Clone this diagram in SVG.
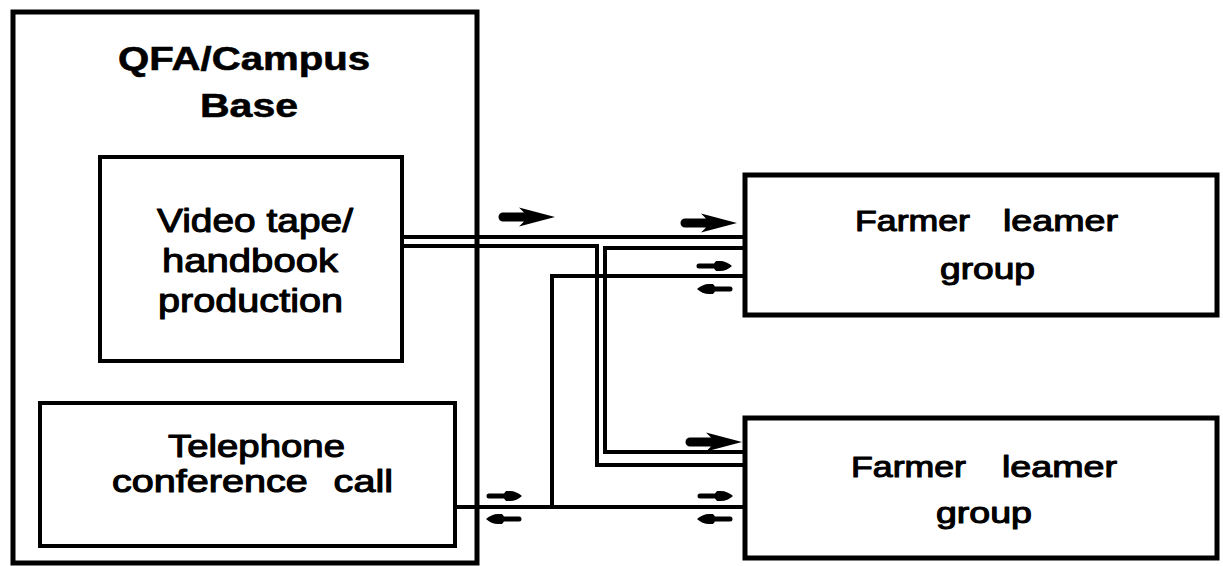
<svg xmlns="http://www.w3.org/2000/svg" xmlns:xlink="http://www.w3.org/1999/xlink" width="1223" height="566" viewBox="0 0 1223 566">
<style>
.box{fill:#fff;stroke:#000;stroke-width:4}
.heavy{stroke-width:5}
.lbl{font-family:"Liberation Sans",Arial,sans-serif;fill:#000;stroke:#000;stroke-width:1.1;stroke-linejoin:round}
.title{font-family:"Liberation Sans",Arial,sans-serif;font-weight:bold;fill:#000;stroke:#000;stroke-width:0.6;stroke-linejoin:round}
.ln{fill:none;stroke:#000;stroke-width:4;stroke-linejoin:miter}
.arr{fill:#000}
</style>
<defs>
<path id="big" class="arr" d="M0,0 L-36,-9.5 L-31,-4.5 L-52,-4.5 A4.5,4.5 0 0 0 -52,4.5 L-31,4.5 L-36,9.5 Z"/>
<path id="sm" class="arr" d="M0,0 C-3,-3 -8,-5 -12,-5 L-16,-5 L-18,-2.5 L-33,-2.5 A2.5,2.5 0 0 0 -33,2.5 L-18,2.5 L-16,5 L-12,5 C-8,5 -3,3 0,0 Z"/>
</defs>
<rect width="1223" height="566" fill="#fff"/>
<g id="qfa-campus-base">
<rect class="box heavy" x="13" y="12" width="464" height="551" fill="none"/>
<text class="title" font-size="34" x="118" y="70" textLength="252" lengthAdjust="spacingAndGlyphs">QFA/Campus</text>
<text class="title" font-size="34" x="200" y="117" textLength="98" lengthAdjust="spacingAndGlyphs">Base</text>
</g>
<g id="connectors">
<path class="ln" d="M402,237 H745"/>
<path class="ln" d="M402,246 H597 V465 H745"/>
<path class="ln" d="M745,248 H605 V452 H745"/>
<path class="ln" d="M455,507 H745"/>
<path class="ln" d="M552,507 V276 H745"/>
<use xlink:href="#big" href="#big" transform="translate(555,217)"/>
<use xlink:href="#big" href="#big" transform="translate(737,223)"/>
<use xlink:href="#big" href="#big" transform="translate(742,442)"/>
<use xlink:href="#sm" href="#sm" transform="translate(732,266)"/>
<use xlink:href="#sm" href="#sm" transform="translate(697,289) scale(-1,1)"/>
<use xlink:href="#sm" href="#sm" transform="translate(733,496)"/>
<use xlink:href="#sm" href="#sm" transform="translate(697,519) scale(-1,1)"/>
<use xlink:href="#sm" href="#sm" transform="translate(522,496)"/>
<use xlink:href="#sm" href="#sm" transform="translate(486,519) scale(-1,1)"/>
</g>
<g id="video-production">
<rect class="box" x="100" y="157" width="302" height="204"/>
<text class="lbl" font-size="34" x="157" y="232" textLength="196" lengthAdjust="spacingAndGlyphs">Video tape/</text>
<text class="lbl" font-size="34" x="162" y="272" textLength="176" lengthAdjust="spacingAndGlyphs">handbook</text>
<text class="lbl" font-size="34" x="158" y="312" textLength="185" lengthAdjust="spacingAndGlyphs">production</text>
</g>
<g id="telephone-call">
<rect class="box" x="40" y="403" width="415" height="143"/>
<text class="lbl" font-size="32" x="168" y="457" textLength="177" lengthAdjust="spacingAndGlyphs">Telephone</text>
<text class="lbl" font-size="32" x="112" y="492" word-spacing="12" textLength="281" lengthAdjust="spacingAndGlyphs">conference call</text>
</g>
<g id="farmer-group-1">
<rect class="box heavy" x="745" y="175" width="472" height="140"/>
<text class="lbl" font-size="30" y="231"><tspan x="855" textLength="115" lengthAdjust="spacingAndGlyphs">Farmer</tspan> <tspan x="1003" textLength="115" lengthAdjust="spacingAndGlyphs">leamer</tspan></text>
<text class="lbl" font-size="30" x="940" y="279" textLength="95" lengthAdjust="spacingAndGlyphs">group</text>
</g>
<g id="farmer-group-2">
<rect class="box heavy" x="745" y="418" width="472" height="140"/>
<text class="lbl" font-size="30" y="477"><tspan x="851" textLength="115" lengthAdjust="spacingAndGlyphs">Farmer</tspan> <tspan x="1002" textLength="115" lengthAdjust="spacingAndGlyphs">leamer</tspan></text>
<text class="lbl" font-size="30" x="936" y="523" textLength="96" lengthAdjust="spacingAndGlyphs">group</text>
</g>
</svg>
